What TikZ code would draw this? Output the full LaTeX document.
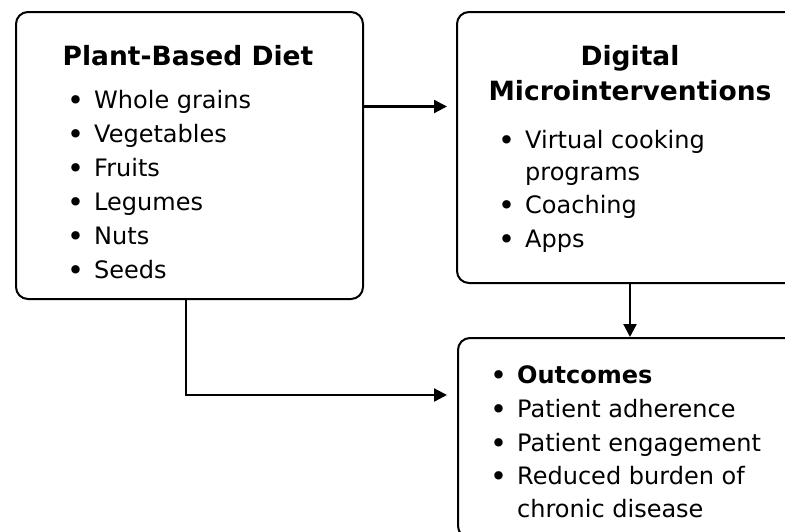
\documentclass[tikz,border=0pt]{standalone}
\usepackage{fontspec}
\setmainfont{DejaVu Sans}
\usepackage{tikz}
\usetikzlibrary{arrows.meta}

\newcommand{\itm}[1]{\llap{\raisebox{-2pt}{\scalebox{1.2}{\textbullet}}\hspace{10pt}}#1}

\begin{document}
\begin{tikzpicture}[>={Triangle[length=13pt,width=13pt]},x=1pt,y=-1pt]
        \tikzstyle{box}=[draw=black,line width=2pt,rounded corners=12pt,anchor=north west,inner sep=0pt]
        \tikzstyle{head}=[font=\fontsize{26.5}{34}\selectfont\bfseries,anchor=base,inner sep=0pt]
        \tikzstyle{item}=[font=\fontsize{24}{33}\selectfont,anchor=base west,inner sep=0pt]
        \tikzstyle{link}=[->,line width=2.2pt]

        \useasboundingbox (0,0) rectangle (785,531);
        \clip (0,0) rectangle (785,531);

        % the three boxes
        \node[box,minimum width=347pt,minimum height=287pt] (P) at (15,11) {};
        \node[box,minimum width=346pt,minimum height=271pt] (M) at (456,11) {};
        \node[box,minimum width=346pt,minimum height=200pt] (O) at (457,337) {};

        % plant-based diet
        \node[head] (Pt) at (188,65) {Plant-Based Diet};
        \foreach \t [count=\i] in {Whole grains,Vegetables,Fruits,Legumes,Nuts,Seeds}
            \node[item] (P\i) at (94,74+34*\i) {\itm{\t}};

        % microinterventions
        \node[head] (Mt1) at (630,65) {Digital};
        \node[head] (Mt2) at (630,100) {Microinterventions};
        \node[item] (M1) at (525,148) {\itm{Virtual cooking}};
        \node[item] (M2) at (525,180) {programs};
        \node[item] (M3) at (525,213) {\itm{Coaching}};
        \node[item] (M4) at (525,247) {\itm{Apps}};

        % outcomes
        \node[item] (O1) at (517,383) {\itm{\textbf{Outcomes}}};
        \node[item] (O2) at (517,417) {\itm{Patient adherence}};
        \node[item] (O3) at (517,451) {\itm{Patient engagement}};
        \node[item] (O4) at (517,484) {\itm{Reduced burden of}};
        \node[item] (O5) at (517,517) {chronic disease};

        % connectors
        \coordinate (bend) at (186,395);
        \draw[link,shorten >=9pt] ([yshift=49pt]P.east) -- ([yshift=49pt]P.east -| M.west);
        \draw[link] (M.south) -- (M.south |- O.north);
        \draw[link,shorten >=10pt] (P.south -| bend) |- (O.west |- bend);
    \end{tikzpicture}
\end{document}
